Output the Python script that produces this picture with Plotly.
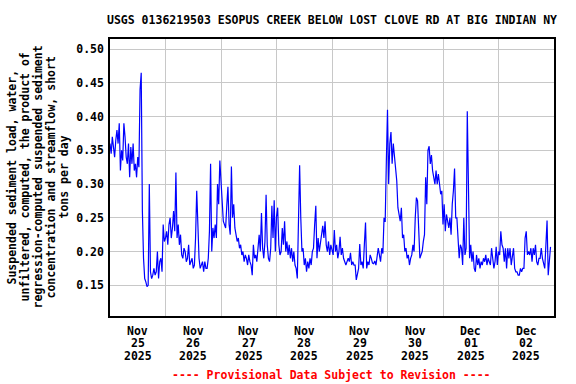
import pandas as pd
import plotly.graph_objects as go

# Suspended sediment load (tons/day), half-hourly readings per day
nov25 = [0.36, 0.345, 0.37, 0.35, 0.34, 0.365, 0.38, 0.36, 0.39, 0.32, 0.35, 0.335,
         0.39, 0.37, 0.34, 0.33, 0.36, 0.31, 0.355, 0.33, 0.36, 0.32, 0.33, 0.31,
         0.34, 0.325, 0.44, 0.465, 0.26, 0.19, 0.16, 0.155, 0.148, 0.15, 0.30, 0.17,
         0.16, 0.165, 0.175, 0.165, 0.17, 0.20, 0.16, 0.185, 0.19, 0.17, 0.24, 0.215]
nov26 = [0.22, 0.23, 0.21, 0.24, 0.25, 0.22, 0.235, 0.26, 0.23, 0.317, 0.22, 0.24,
         0.21, 0.225, 0.195, 0.19, 0.205, 0.20, 0.185, 0.19, 0.21, 0.18, 0.185, 0.19,
         0.175, 0.18, 0.22, 0.29, 0.24, 0.19, 0.175, 0.18, 0.185, 0.17, 0.185, 0.175,
         0.175, 0.19, 0.23, 0.33, 0.20, 0.235, 0.22, 0.24, 0.22, 0.30, 0.27, 0.335]
nov27 = [0.30, 0.28, 0.245, 0.24, 0.235, 0.268, 0.296, 0.24, 0.225, 0.326, 0.25, 0.27,
         0.235, 0.225, 0.215, 0.22, 0.205, 0.21, 0.195, 0.20, 0.185, 0.195, 0.19, 0.18,
         0.195, 0.185, 0.18, 0.165, 0.21, 0.19, 0.195, 0.185, 0.205, 0.225, 0.20, 0.257,
         0.205, 0.19, 0.215, 0.284, 0.21, 0.19, 0.185, 0.205, 0.268, 0.22, 0.276, 0.20]
nov28 = [0.252, 0.265, 0.21, 0.195, 0.20, 0.235, 0.21, 0.245, 0.20, 0.215, 0.195, 0.21,
         0.19, 0.205, 0.185, 0.20, 0.18, 0.175, 0.16, 0.24, 0.328, 0.25, 0.20, 0.205,
         0.18, 0.19, 0.17, 0.185, 0.175, 0.19, 0.18, 0.20, 0.205, 0.24, 0.268, 0.19,
         0.22, 0.20, 0.215, 0.225, 0.238, 0.22, 0.245, 0.21, 0.20, 0.215, 0.195, 0.21]
nov29 = [0.20, 0.195, 0.232, 0.20, 0.21, 0.19, 0.20, 0.222, 0.195, 0.205, 0.19, 0.185,
         0.18, 0.185, 0.19, 0.185, 0.198, 0.18, 0.185, 0.18, 0.18, 0.158, 0.17, 0.175,
         0.211, 0.18, 0.185, 0.175, 0.211, 0.243, 0.175, 0.185, 0.18, 0.195, 0.19, 0.183,
         0.182, 0.186, 0.18, 0.19, 0.205, 0.195, 0.185, 0.205, 0.197, 0.25, 0.244, 0.333]
nov30 = [0.41, 0.30, 0.36, 0.377, 0.33, 0.36, 0.34, 0.32, 0.305, 0.265, 0.255, 0.245,
         0.265, 0.22, 0.225, 0.20, 0.205, 0.19, 0.195, 0.18, 0.19, 0.195, 0.21, 0.20,
         0.25, 0.28, 0.275, 0.22, 0.19, 0.195, 0.20, 0.215, 0.225, 0.31, 0.27, 0.35,
         0.356, 0.33, 0.343, 0.32, 0.31, 0.30, 0.32, 0.30, 0.315, 0.30, 0.285, 0.29]
dec01 = [0.24, 0.27, 0.23, 0.255, 0.245, 0.235, 0.25, 0.225, 0.27, 0.29, 0.323, 0.25,
         0.25, 0.212, 0.19, 0.21, 0.205, 0.18, 0.25, 0.195, 0.205, 0.408, 0.303, 0.19,
         0.21, 0.185, 0.20, 0.175, 0.17, 0.195, 0.18, 0.19, 0.175, 0.185, 0.18, 0.19,
         0.185, 0.195, 0.18, 0.19, 0.185, 0.18, 0.205, 0.19, 0.175, 0.185, 0.207, 0.18]
dec02 = [0.20, 0.195, 0.23, 0.21, 0.205, 0.185, 0.205, 0.175, 0.205, 0.19, 0.205, 0.18,
         0.195, 0.205, 0.175, 0.17, 0.17, 0.165, 0.165, 0.175, 0.17, 0.175, 0.175, 0.22,
         0.23, 0.195, 0.20, 0.195, 0.205, 0.185, 0.205, 0.195, 0.21, 0.185, 0.18, 0.19,
         0.19, 0.205, 0.19, 0.18, 0.175, 0.21, 0.246, 0.165, 0.19, 0.207]

day_starts = ["2025-11-25", "2025-11-26", "2025-11-27", "2025-11-28",
              "2025-11-29", "2025-11-30", "2025-12-01", "2025-12-02"]
y_ticks = [0.15, 0.20, 0.25, 0.30, 0.35, 0.40, 0.45, 0.50]

title_text = "USGS 0136219503 ESOPUS CREEK BELOW LOST CLOVE RD AT BIG INDIAN NY"
ylabel_lines = ["Suspended sediment load, water,",
                "unfiltered, computed, the product of",
                "regression-computed suspended sediment",
                "concentration and streamflow, short",
                "tons per day"]
footer_text = "---- Provisional Data Subject to Revision ----"

values = nov25 + nov26 + nov27 + nov28 + nov29 + nov30 + dec01 + dec02
times = pd.date_range("2025-11-25 00:00", periods=len(values), freq="30min")

W, H = 576, 384
L, R, T, B = 110, 22, 39, 68
PW, PH = W - L - R, H - T - B

FONT = dict(family="DejaVu Sans Mono, monospace", size=11.5, color="black", weight="bold")

fig = go.Figure()
fig.add_trace(go.Scatter(x=times, y=values, mode="lines",
                         line=dict(color="#0000ff", width=1.2),
                         hoverinfo="skip", showlegend=False))

fig.update_layout(
    width=W, height=H,
    margin=dict(l=L, r=R, t=T, b=B, pad=0),
    paper_bgcolor="white", plot_bgcolor="white",
    showlegend=False,
)
fig.update_xaxes(
    range=["2025-11-25 00:00", "2025-12-03 00:00"],
    tick0="2025-11-25", dtick=86400000, tickmode="linear",
    showgrid=True, gridcolor="#c8c8c8", gridwidth=1,
    showticklabels=False, ticks="",
    showline=True, linecolor="black", linewidth=1.5, mirror=True,
    zeroline=False,
)
fig.update_yaxes(
    range=[0.1045, 0.515],
    tickmode="array", tickvals=y_ticks,
    ticktext=[f"{v:.2f}" for v in y_ticks],
    tickfont=FONT, ticks="", ticklabelstandoff=2,
    showgrid=True, gridcolor="#c8c8c8", gridwidth=1,
    showline=True, linecolor="black", linewidth=1.5, mirror=True,
    zeroline=False,
)

ann = []
# Title
ann.append(dict(text=title_text, xref="paper", yref="paper",
                x=0.5, y=1 + (T - 20) / PH, xanchor="center", yanchor="middle",
                showarrow=False, font=FONT))
# Y-axis title lines (rotated)
ylabel_x = [11.0, 24.0, 37.0, 50.0, 63.0]
for px, line in zip(ylabel_x, ylabel_lines):
    ann.append(dict(text=line, xref="paper", yref="paper",
                    x=(px - L) / PW, y=0.5, xanchor="center", yanchor="middle",
                    textangle=-90, showarrow=False, font=FONT))
# X tick labels at midday of each day
for d in day_starts:
    ts = pd.Timestamp(d)
    mid = ts + pd.Timedelta(hours=12)
    parts = [ts.strftime("%b"), ts.strftime("%d"), ts.strftime("%Y")]
    for k, p in enumerate(parts):
        ann.append(dict(text=p, xref="x", yref="paper", x=mid, y=0,
                        xanchor="center", yanchor="middle",
                        yshift=-(14.7 + 12.65 * k), showarrow=False, font=FONT))
# Footer
ann.append(dict(text=footer_text, xref="paper", yref="paper",
                x=(331 - L) / PW, y=0, xanchor="center", yanchor="middle",
                yshift=-58.7, showarrow=False,
                font=dict(family=FONT["family"], size=11.5, color="#ff0000", weight="bold")))

fig.update_layout(annotations=ann)
fig.write_html("out.html")
